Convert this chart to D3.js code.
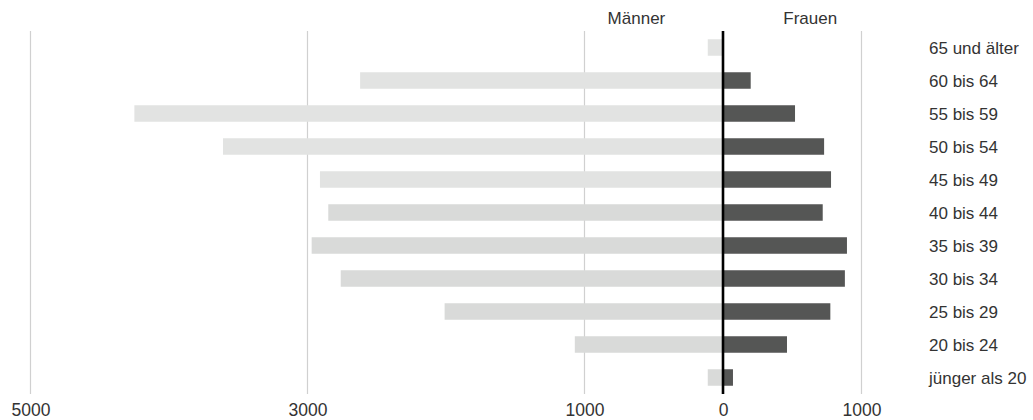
<!DOCTYPE html>
<html>
<head>
<meta charset="utf-8">
<script src="https://cdn.jsdelivr.net/npm/d3@7"></script>
<style>
  html, body { margin: 0; padding: 0; background: #fff; }
  svg { display: block; font-family: "Liberation Sans", Arial, Helvetica, sans-serif; }
</style>
</head>
<body>
<div id="chart"></div>
<script>
// Altersgruppen, von oben nach unten
const ageGroups = ['65 und älter', '60 bis 64', '55 bis 59', '50 bis 54', '45 bis 49',
  '40 bis 44', '35 bis 39', '30 bis 34', '25 bis 29', '20 bis 24', 'jünger als 20'];
const men = [110, 2620, 4250, 3610, 2910, 2850, 2970, 2760, 2010, 1070, 110];
const women = [0, 200, 520, 730, 780, 720, 895, 880, 775, 462, 72];
const tickValues = [-5000, -3000, -1000, 0, 1000];

const width = 1033, height = 420;
const svg = d3.select('#chart').append('svg')
  .attr('width', width).attr('height', height);

// symmetrischer Maßstab: Männer nach links, Frauen nach rechts
const x = d3.scaleLinear().domain([-5000, 1000]).range([30.5, 861.5]);
const y = d3.scaleBand().domain(ageGroups).range([31, 394])
  .paddingInner(0.5).paddingOuter(0.25);

// Gitterlinien
svg.append('g')
  .selectAll('line')
  .data(tickValues.filter(d => d !== 0)).enter().append('line')
  .attr('x1', d => x(d)).attr('x2', d => x(d))
  .attr('y1', 31).attr('y2', 394)
  .attr('stroke', '#d0d0d0').attr('stroke-width', 1.2);

// Balken Männer
svg.append('g')
  .selectAll('rect')
  .data(ageGroups).enter().append('rect')
  .attr('x', (d, i) => x(-men[i]))
  .attr('y', d => y(d))
  .attr('width', (d, i) => x(0) - x(-men[i]))
  .attr('height', y.bandwidth())
  .attr('fill', (d, i) => i < 5 ? '#e2e3e2' : '#d9dad9');

// Balken Frauen
svg.append('g')
  .selectAll('rect')
  .data(ageGroups).enter().append('rect')
  .attr('x', x(0))
  .attr('y', d => y(d))
  .attr('width', (d, i) => x(women[i]) - x(0))
  .attr('height', y.bandwidth())
  .attr('fill', '#555655');

// Nulllinie
svg.append('line')
  .attr('x1', x(0)).attr('x2', x(0))
  .attr('y1', 31).attr('y2', 394)
  .attr('stroke', '#000').attr('stroke-width', 2.6);

// Achse unten
const axis = d3.axisBottom(x)
  .tickValues(tickValues)
  .tickFormat(d => Math.abs(d))
  .tickSize(0).tickPadding(0);
const gx = svg.append('g')
  .attr('transform', 'translate(0,398)')
  .call(axis);
gx.select('.domain').remove();
gx.selectAll('text')
  .attr('dy', '1.02em')
  .attr('font-size', '17.5px')
  .attr('font-family', '"Liberation Sans", Arial, sans-serif')
  .attr('fill', '#333');

// Kategorien rechts
svg.append('g')
  .selectAll('text')
  .data(ageGroups).enter().append('text')
  .attr('x', 929)
  .attr('y', d => y(d) + y.bandwidth() / 2)
  .attr('dy', '0.36em')
  .attr('font-size', '17px')
  .attr('fill', '#333')
  .text(d => d);

// Kopfzeile
svg.append('text')
  .attr('x', x(-625)).attr('y', 24)
  .attr('text-anchor', 'middle')
  .attr('font-size', '17px').attr('fill', '#333')
  .text('Männer');
svg.append('text')
  .attr('x', x(630)).attr('y', 24)
  .attr('text-anchor', 'middle')
  .attr('font-size', '17px').attr('fill', '#333')
  .text('Frauen');
</script>
</body>
</html>
